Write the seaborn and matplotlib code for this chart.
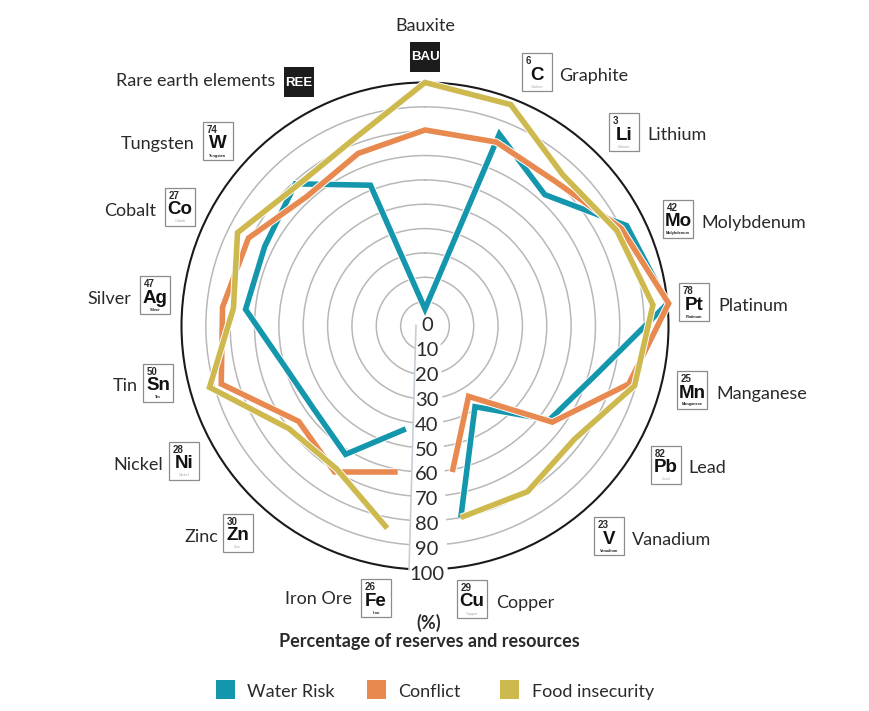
import numpy as np
import pandas as pd
import seaborn as sns
import matplotlib.pyplot as plt
import matplotlib.patheffects as pe
from matplotlib.patches import Polygon, Rectangle
from matplotlib.lines import Line2D

sns.set_style('white')
plt.rcParams['font.family'] = ['Lato', 'DejaVu Sans']

#%% data
minerals = ['Bauxite', 'Graphite', 'Lithium', 'Molybdenum', 'Platinum', 'Manganese',
            'Lead', 'Vanadium', 'Copper', 'Iron Ore', 'Zinc', 'Nickel', 'Tin',
            'Silver', 'Cobalt', 'Tungsten', 'Rare earth elements']
water = [7, 84.5, 73, 92.5, 100, 73, 64, 39, 80, 43, 62, 57, 60, 74, 73.5, 79, 62]
conflict = [80.5, 81, 80, 90, 100.5, 87, 65.5, 34, 61, 61, 70.5, 65, 87, 83.5, 81, 72, 76]
food = [100, 97.5, 84, 88, 94, 89.5, 77, 80, 80, 84.5, 69, 70, 92, 79, 86, 78, 82]
series_names = ['Water Risk', 'Conflict', 'Food insecurity']
series_colors = ['#1496AD', '#E8894F', '#CDB94D']
ticks = [0, 10, 20, 30, 40, 50, 60, 70, 80, 90, 100]

symbols = ['BAU', 'C', 'Li', 'Mo', 'Pt', 'Mn', 'Pb', 'V', 'Cu', 'Fe', 'Zn', 'Ni', 'Sn',
           'Ag', 'Co', 'W', 'REE']
numbers = ['', 6, 3, 42, 78, 25, 82, 23, 29, 26, 30, 28, 50, 47, 27, 74, '']
elements = ['', 'Carbon', 'Lithium', 'Molybdenum', 'Platinum', 'Manganese', 'Lead',
            'Vanadium', 'Copper', 'Iron', 'Zinc', 'Nickel', 'Tin', 'Silver', 'Cobalt',
            'Tungsten', '']
faint = ['Carbon', 'Lithium', 'Lead', 'Copper', 'Zinc', 'Nickel', 'Cobalt']

# tile left/top in pixels, then name anchor x/y/alignment
tile_pos = [(410, 42), (522, 53), (609, 113), (663, 200), (679, 283), (677, 371),
            (651, 446), (594, 517), (457, 580), (361, 579), (223, 514), (169, 442),
            (143, 364), (140, 276), (165, 188), (203, 122), (284, 67)]
name_pos = [(425, 26, 'center'), (559, 76, 'left'), (647, 135, 'left'), (701, 223, 'left'),
            (718, 306, 'left'), (716, 394, 'left'), (688, 468, 'left'), (632, 540, 'left'),
            (496, 603, 'left'), (352, 599, 'right'), (218, 537, 'right'), (163, 465, 'right'),
            (138, 386, 'right'), (131, 299, 'right'), (156, 211, 'right'), (195, 144, 'right'),
            (275, 81, 'right')]

W, H = 870, 711
CX, CY, R = 425, 326, 243.5
ink = '#2a2a2a'
tile_font = ['Liberation Sans', 'DejaVu Sans']


def px(x, y):
    return x / W, 1 - y / H


#%% long table, the outline stays open between Copper and Iron Ore
n = len(minerals)
order = list(range(9, n)) + list(range(0, 9))
theta = np.arange(n) * 2 * np.pi / n
frames = []
for name, vals in zip(series_names, [water, conflict, food]):
    frames.append(pd.DataFrame({'theta': theta[order],
                                'value': np.array(vals)[order],
                                'series': name}))
table = pd.concat(frames)

#%% plot
fig = plt.figure(figsize=(W / 100, H / 100), dpi=100)
ax = fig.add_axes([(CX - R) / W, 1 - (CY + R) / H, 2 * R / W, 2 * R / H], projection='polar')
ax.set_theta_zero_location('N')
ax.set_theta_direction(-1)

sns.lineplot(data=table, x='theta', y='value', hue='series', hue_order=series_names,
             palette=series_colors, sort=False, estimator=None, legend=False, ax=ax,
             lw=4, solid_joinstyle='miter', solid_capstyle='butt', clip_on=False, zorder=3,
             path_effects=[pe.withStroke(linewidth=5.4, foreground='white')])

ax.set_ylim(0, 100)
ax.set_rgrids(ticks[1:-1], labels=[])
ax.set_xticks([])
ax.set_xlabel('')
ax.set_ylabel('')
ax.grid(True, axis='y', color='#b8b8b8', lw=1.1)
ax.spines['polar'].set_color('#1a1a1a')
ax.spines['polar'].set_linewidth(1.5)

# white strip holding the radial scale
strip = Polygon([px(416, 322), px(440, 322), px(448, 581), px(409, 581)], closed=True,
                transform=fig.transFigure, fc='white', ec='none', zorder=1)
fig.add_artist(strip)
fig.add_artist(Line2D([416 / W, 409 / W], [1 - 325 / H, 1 - 570 / H], color='#c8ced6', lw=1.2,
                      transform=fig.transFigure, zorder=1.1))
for i, t in enumerate(ticks):
    x, y = px(427, 325.5 + 24.9 * i)
    fig.text(x, y, str(t), ha='center', va='center', fontsize=14.5, color=ink, zorder=3)

#%% element tiles and names
for i, name in enumerate(minerals):
    left, top = tile_pos[i]
    nx, ny, align = name_pos[i]
    x, y = px(nx, ny)
    fig.text(x, y, name, ha=align, va='center', fontsize=13, color=ink, zorder=3)

    if numbers[i] == '':
        fig.add_artist(Rectangle(px(left, top + 30), 30 / W, 30 / H, transform=fig.transFigure,
                                 fc='#1c1c1c', ec='none', zorder=2))
        x, y = px(left + 15, top + 15.5)
        fig.text(x, y, symbols[i], ha='center', va='center', fontsize=9.5, color='white',
                 fontweight='bold', family=tile_font, zorder=3)
        continue

    fig.add_artist(Rectangle(px(left, top + 38), 30 / W, 38 / H, transform=fig.transFigure,
                             fc='white', ec='#8c8c8c', lw=0.9, zorder=2))
    x, y = px(left + 3.5, top + 8)
    fig.text(x, y, str(numbers[i]), ha='left', va='center', fontsize=7, color=ink,
             fontweight='bold', family=tile_font, zorder=3)
    x, y = px(left + 15, top + 22)
    fig.text(x, y, symbols[i], ha='center', va='center', fontsize=13.5, color='#111111',
             fontweight='bold', family=tile_font, zorder=3)
    x, y = px(left + 15, top + 33.5)
    small = elements[i]
    fig.text(x, y, small, ha='center', va='center', fontsize=2.8, zorder=3, family=tile_font,
             color='#aaaaaa' if small in faint else '#222222',
             fontweight='normal' if small in faint else 'bold')

#%% footer
x, y = px(429, 623)
fig.text(x, y, '(%)', ha='center', va='center', fontsize=13, fontweight='bold', color=ink)
x, y = px(429, 642)
fig.text(x, y, 'Percentage of reserves and resources', ha='center', va='center', fontsize=13,
         fontweight='bold', color=ink)

for left, text_x, name, color in zip([216, 367, 500], [247, 398, 532], series_names, series_colors):
    fig.add_artist(Rectangle(px(left, 699), 19 / W, 19 / H, transform=fig.transFigure,
                             fc=color, ec='none', zorder=2))
    x, y = px(text_x, 692)
    fig.text(x, y, name, ha='left', va='center', fontsize=13, color=ink)

fig.savefig('out.png', dpi=100, facecolor='white')
